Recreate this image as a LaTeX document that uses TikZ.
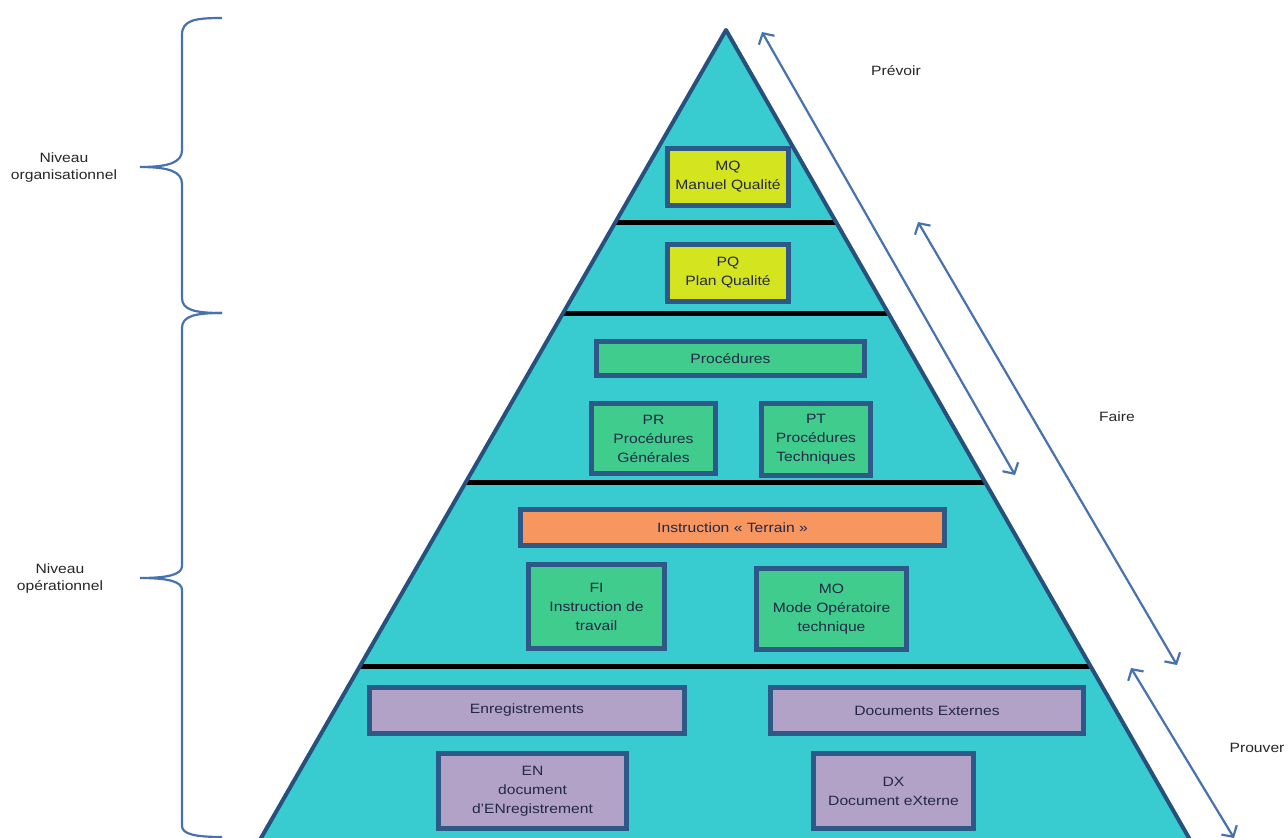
\documentclass[tikz,border=0pt]{standalone}
\usepackage{fontspec}
\setmainfont{Liberation Sans}[FakeStretch=1.16]
\usetikzlibrary{arrows.meta}
\definecolor{pyrfill}{RGB}{56,204,208}
\definecolor{pyrline}{RGB}{40,80,125}
\definecolor{boxline}{RGB}{46,88,135}
\definecolor{yel}{RGB}{212,228,30}
\definecolor{grn}{RGB}{64,204,140}
\definecolor{org}{RGB}{247,150,95}
\definecolor{lav}{RGB}{178,162,200}
\definecolor{arr}{RGB}{70,114,176}
\definecolor{txt}{RGB}{35,40,70}
\begin{document}
\begin{tikzpicture}[x=1pt,y=-1pt,
  box/.style={draw=boxline,line width=4.2pt,align=center,inner sep=0pt,text=txt,
    font=\fontsize{13.5}{19}\selectfont},
  ybox/.style={box,fill=yel},
  gbox/.style={box,fill=grn},
  obox/.style={box,fill=org},
  lbox/.style={box,fill=lav},
  divider/.style={line width=5pt,black},
  dblarrow/.style={arr,line width=2.2pt,{Straight Barb[length=8pt,width=18pt]}-{Straight Barb[length=8pt,width=18pt]}},
  bracestyle/.style={arr,line width=2.2pt},
  lbl/.style={align=center,text=black!85,font=\fontsize{13.5}{17}\selectfont}]
\clip (0,0) rectangle (1288,838);
\fill[white] (0,0) rectangle (1288,838);
% pyramid
\coordinate (apex) at (726,30);
\coordinate (bl) at (257,845);
\coordinate (br) at (1193,845);
\fill[pyrfill] (apex) -- (br) -- (bl) -- cycle;
\draw[divider] (615,222) -- (836,222);
\draw[divider] (563,313) -- (888,313);
\draw[divider] (465,482) -- (985,482);
\draw[divider] (359,666) -- (1091,666);
\draw[pyrline,line width=4pt,line join=round] (bl) -- (apex) -- (br);
% boxes
\node[ybox,minimum width=121pt,minimum height=57pt] (mq) at (728,177) {MQ\\Manuel Qualité};
\node[ybox,minimum width=121pt,minimum height=57pt] (pq) at (728,273) {PQ\\Plan Qualité};
\node[gbox,minimum width=268pt,minimum height=34pt] (proc) at (730.5,358.5) {Procédures};
\node[gbox,minimum width=124pt,minimum height=70pt] (pr) at (653.5,438.5) {PR\\Procédures\\Générales};
\node[gbox,minimum width=109pt,minimum height=72pt] (pt) at (816,439.5) {PT\\Procédures\\Techniques};
\node[obox,minimum width=424pt,minimum height=36pt] (instr) at (732.5,527.5) {Instruction « Terrain »};
\node[gbox,minimum width=136pt,minimum height=84pt] (fi) at (596.5,606.5) {FI\\Instruction de\\travail};
\node[gbox,minimum width=150pt,minimum height=81pt] (mo) at (831.5,609) {MO\\Mode Opératoire\\technique};
\node[lbox,minimum width=315pt,minimum height=46pt] (enr) at (527,710.5) {Enregistrements};
\node[lbox,minimum width=313pt,minimum height=46pt] (dext) at (927,710.5) {Documents Externes};
\node[lbox,minimum width=188pt,minimum height=75pt] (en) at (532.5,791) {EN\\document\\d’ENregistrement};
\node[lbox,minimum width=160pt,minimum height=75pt] (dx) at (893.5,791) {DX\\Document eXterne};
% arrows
\coordinate (a1s) at (762,32);
\coordinate (a1e) at (1015,475);
\coordinate (a2s) at (918,222);
\coordinate (a2e) at (1177,665);
\coordinate (a3s) at (1131,668);
\coordinate (a3e) at (1234,838);
\draw[dblarrow] (a1s) -- (a1e);
\draw[dblarrow] (a2s) -- (a2e);
\draw[dblarrow] (a3s) -- (a3e);
\node[lbl] (prevoir) at (896,71) {Prévoir};
\node[lbl] (faire) at (1117,417) {Faire};
\node[lbl] (prouver) at (1257,748) {Prouver};
% braces
\draw[bracestyle] (222,18) .. controls (195,18) and (182,20) .. (182,35) -- (182,150)
  .. controls (182,162) and (170,167) .. (140,167)
  .. controls (170,167) and (182,172) .. (182,184) -- (182,298)
  .. controls (182,310) and (195,313) .. (222,313);
\draw[bracestyle] (222,313) .. controls (195,313) and (182,316) .. (182,328) -- (182,566)
  .. controls (182,574) and (170,578) .. (140,578)
  .. controls (170,578) and (182,582) .. (182,590) -- (182,826)
  .. controls (182,834) and (195,837) .. (222,837);
\node[lbl] (org) at (64,168) {Niveau\\organisationnel};
\node[lbl] (ope) at (60,579) {Niveau\\opérationnel};
\end{tikzpicture}
\end{document}
